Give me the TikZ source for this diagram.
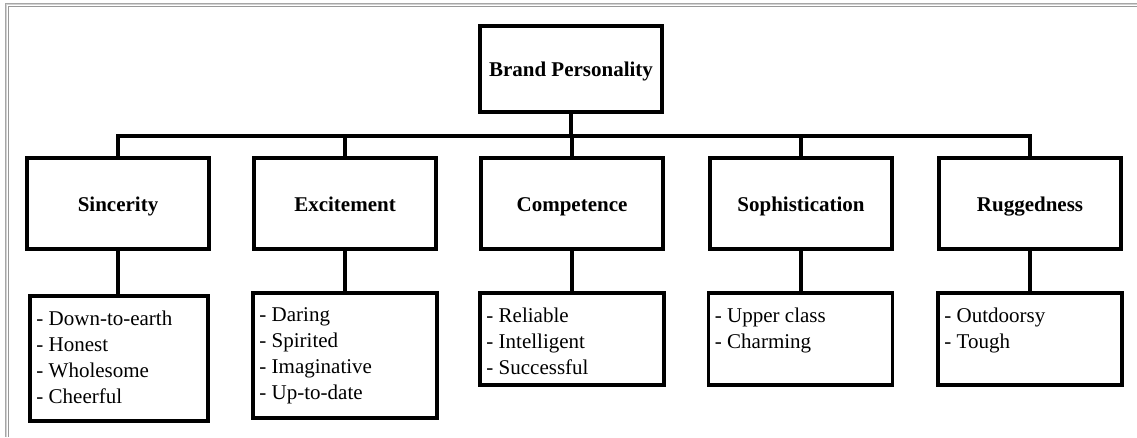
\documentclass[tikz,border=0pt]{standalone}
\usepackage{fontspec}
\setmainfont{Liberation Serif}
\begin{document}
\begin{tikzpicture}[x=1pt,y=-1pt,
  box/.style={draw=black, line width=3.5pt, rectangle, inner sep=0pt, minimum width=182pt},
  head/.style={box, font=\fontsize{21}{24}\selectfont\bfseries, text height=15pt, text depth=0pt},
  lst/.style={align=left, anchor=north west, inner sep=0pt, font=\fontsize{21}{26}\selectfont},
  conn/.style={line width=3.5pt, line cap=rect}]
\useasboundingbox (0,0) rectangle (1137,437);
% frame (left and top only)
\draw[gray!70, line width=1.3pt] (5.5,437) -- (5.5,3.5) -- (1137,3.5);
\draw[gray!35, line width=0.8pt] (6.8,437) -- (6.8,4.8) -- (1137,4.8);
\draw[gray!80, line width=1pt] (8,437) -- (8,6) -- (1137,6);
% top
\node[head, minimum height=86pt] (bp) at (571,69) {Brand Personality};
% level 2
\node[head, minimum height=91pt] (s1) at (118,203.5) {Sincerity};
\node[head, minimum height=91pt] (s2) at (345,203.5) {Excitement};
\node[head, minimum height=91pt] (s3) at (572,203.5) {Competence};
\node[head, minimum height=91pt] (s4) at (801,203.5) {Sophistication};
\node[head, minimum height=91pt] (s5) at (1030,203.5) {Ruggedness};
% level 3 boxes
\node[box, minimum width=178pt, minimum height=125pt] (l1) at (119,358.5) {};
\node[box, minimum width=184pt, minimum height=125pt] (l2) at (345,355.5) {};
\node[box, minimum width=184pt, minimum height=92pt] (l3) at (572,339) {};
\node[box, minimum width=184pt, minimum height=92pt] (l4) at (800.5,339) {};
\node[box, minimum width=184pt, minimum height=92pt] (l5) at (1030,339) {};
% list texts
\node[lst] (t1) at ([xshift=8pt,yshift=-16pt]l1.north west) {- Down-to-earth\\- Honest\\- Wholesome\\- Cheerful};
\node[lst] (t2) at ([xshift=8pt,yshift=-16pt]l2.north west) {- Daring\\- Spirited\\- Imaginative\\- Up-to-date};
\node[lst] (t3) at ([xshift=8pt,yshift=-16pt]l3.north west) {- Reliable\\- Intelligent\\- Successful};
\node[lst] (t4) at ([xshift=8pt,yshift=-16pt]l4.north west) {- Upper class\\- Charming};
\node[lst] (t5) at ([xshift=8pt,yshift=-16pt]l5.north west) {- Outdoorsy\\- Tough};
% connectors
\coordinate (bus) at (571,136);
\draw[conn] (bp.south) -- (bus);
\draw[conn] (s1.north) |- (bus) -| (s5.north);
\draw[conn] (s2.north) -- (s2.north |- bus);
\draw[conn] (s3.north) -- (s3.north |- bus);
\draw[conn] (s4.north) -- (s4.north |- bus);
\draw[conn] (s1.south) -- (s1.south |- l1.north);
\draw[conn] (s2.south) -- (s2.south |- l2.north);
\draw[conn] (s3.south) -- (s3.south |- l3.north);
\draw[conn] (s4.south) -- (s4.south |- l4.north);
\draw[conn] (s5.south) -- (s5.south |- l5.north);
\end{tikzpicture}
\end{document}
